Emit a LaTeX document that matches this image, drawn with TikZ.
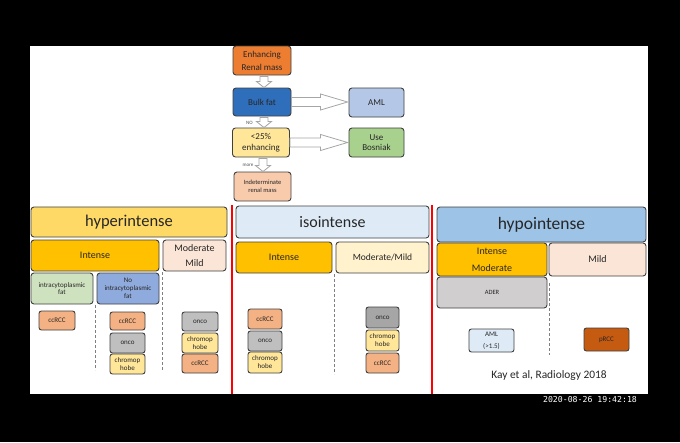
\documentclass[tikz,border=0pt]{standalone}
\usepackage{fontspec}
\setmainfont{Carlito}
\newfontfamily\tsfont{DejaVu Sans Mono}
\usetikzlibrary{calc}
\newcommand\myfs[2]{\fontsize{#1}{#2}\selectfont}
\definecolor{cOrange}{HTML}{ED7D31}
\definecolor{cBlue}{HTML}{2F6EBA}
\definecolor{cLBlue}{HTML}{B4C7E7}
\definecolor{cLYel}{HTML}{FFE699}
\definecolor{cGreen}{HTML}{A9D18E}
\definecolor{cPeach}{HTML}{F8CBAD}
\definecolor{cHyper}{HTML}{FFD966}
\definecolor{cAmber}{HTML}{FFC000}
\definecolor{cPink}{HTML}{FBE5D6}
\definecolor{cPGreen}{HTML}{CFE2C0}
\definecolor{cMBlue}{HTML}{8FAADC}
\definecolor{cRcc}{HTML}{F4B183}
\definecolor{cGray}{HTML}{BFBFBF}
\definecolor{cDGray}{HTML}{A6A6A6}
\definecolor{cIso}{HTML}{DEEBF7}
\definecolor{cCream}{HTML}{FFF2CC}
\definecolor{cHypo}{HTML}{9DC3E6}
\definecolor{cAder}{HTML}{D0CECE}
\definecolor{cBrown}{HTML}{C55A11}
\definecolor{cLine}{HTML}{404040}
\definecolor{cTxt}{HTML}{262626}
\newcommand\rarrow[2]{%
  \draw[blk] let \p1=(#1.east), \p2=(#2.west) in
    (\x1,\y1-4.5pt) -- (\x2-28pt,\y1-4.5pt) -- (\x2-28pt,\y1-8pt) -- (\x2-1pt,\y1)
    -- (\x2-28pt,\y1+8pt) -- (\x2-28pt,\y1+4.5pt) -- (\x1,\y1+4.5pt) -- cycle;}
\newcommand\darrow[2]{%
  \draw[blk] let \p1=($(#1.south)+(2pt,0)$), \p2=(#2.north) in
    (\x1-4pt,\y1-1pt) -- (\x1-4pt,\y2+6pt) -- (\x1-7.5pt,\y2+6pt) -- (\x1,\y2)
    -- (\x1+7.5pt,\y2+6pt) -- (\x1+4pt,\y2+6pt) -- (\x1+4pt,\y1-1pt) -- cycle;}
\begin{document}
\begin{tikzpicture}[x=1pt,y=-1pt,
  box/.style={draw=cLine, line width=0.9pt, rounded corners=3pt, align=center,
    inner sep=0pt, text=cTxt},
  sbox/.style={box, rounded corners=2.5pt, font=\myfs{7}{8}},
  blk/.style={draw=cDGray, fill=white, line width=0.8pt},
  dsh/.style={draw=gray, line width=1pt, dash pattern=on 3pt off 2pt},
  redl/.style={draw=red, line width=1.3pt},
  lbl/.style={font=\myfs{5}{6}, text=cTxt!80, inner sep=0pt}]
\useasboundingbox (0,0) rectangle (680,442);
\fill[black] (0,0) rectangle (680,442);
\fill[white] (30,46) rectangle (648,394);

% top flow
\node[box, fill=cOrange, minimum width=58, minimum height=29, font=\myfs{9}{13}] (enh) at (262,60.5) {Enhancing\\Renal mass};
\node[box, fill=cBlue, minimum width=58, minimum height=28, font=\myfs{9}{11}] (bulk) at (262,102) {Bulk fat};
\node[box, fill=cLBlue, minimum width=55, minimum height=29, font=\myfs{9}{11}] (aml) at (376.5,102.5) {AML};
\node[box, fill=cLYel, minimum width=57, minimum height=29, font=\myfs{9}{10.5}] (less) at (261,142.5) {<25\%\\enhancing};
\node[box, fill=cGreen, minimum width=55, minimum height=29, font=\myfs{9}{10}] (bos) at (376.5,142.5) {Use\\Bosniak};
\node[box, fill=cPeach, minimum width=57, minimum height=29, font=\myfs{6.5}{7.5}] (indet) at (262.5,186.5) {Indeterminate\\renal mass};
\darrow{enh}{bulk}
\darrow{bulk}{less}
\darrow{less}{indet}
\rarrow{bulk}{aml}
\rarrow{less}{bos}
\node[lbl] (nolbl) at (249.5,123) {NO};
\node[lbl] (morelbl) at (248,165) {more};

% separators
\draw[redl] (232,205) -- (232,394);
\draw[redl] (432,205) -- (432,394);

% hyperintense
\node[box, fill=cHyper, minimum width=196, minimum height=30, font=\myfs{16.5}{18}] (hyper) at (129,222) {hyperintense};
\node[box, fill=cAmber, minimum width=128, minimum height=31, font=\myfs{10}{12}] (hint) at (95,255.5) {Intense};
\node[box, fill=cPink, minimum width=63, minimum height=31, font=\myfs{10}{15}] (hmod) at (194.5,255.5) {Moderate\\Mild};
\node[box, fill=cPGreen, minimum width=62, minimum height=31, font=\myfs{7}{7.5}] (hfat) at (62,288.5) {intracytoplasmic\\fat};
\node[box, fill=cMBlue, minimum width=62, minimum height=31, font=\myfs{7}{8}] (hnofat) at (128,288.5) {No\\intracytoplasmic\\fat};
\node[sbox, fill=cRcc, minimum width=36, minimum height=19] (hcc1) at (57,320.5) {ccRCC};
\node[sbox, fill=cRcc, minimum width=35, minimum height=18] (hcc2) at (127.5,321) {ccRCC};
\node[sbox, fill=cGray, minimum width=35, minimum height=20] (hon2) at (127.5,343) {onco};
\node[sbox, fill=cLYel, minimum width=35, minimum height=20] (hch2) at (127.5,364) {chromop\\hobe};
\node[sbox, fill=cGray, minimum width=36, minimum height=19] (hon3) at (200,321.5) {onco};
\node[sbox, fill=cLYel, minimum width=36, minimum height=20] (hch3) at (200,343) {chromop\\hobe};
\node[sbox, fill=cRcc, minimum width=36, minimum height=19] (hcc3) at (200,363.5) {ccRCC};
\draw[dsh] (95,305) -- (95,370);
\draw[dsh] (162,272) -- (162,370);

% isointense
\node[box, fill=cIso, minimum width=193, minimum height=32, font=\myfs{16}{18}] (iso) at (332.5,222) {isointense};
\node[box, fill=cAmber, minimum width=96, minimum height=31, font=\myfs{10}{12}] (iint) at (284,257.5) {Intense};
\node[box, fill=cCream, minimum width=93, minimum height=31, font=\myfs{9.5}{12}] (imod) at (382.5,257.5) {Moderate/Mild};
\node[sbox, fill=cRcc, minimum width=34, minimum height=20] (icc1) at (265,319) {ccRCC};
\node[sbox, fill=cGray, minimum width=34, minimum height=20] (ion1) at (265,341) {onco};
\node[sbox, fill=cLYel, minimum width=34, minimum height=21] (ich1) at (265,362.5) {chromop\\hobe};
\node[sbox, fill=cDGray, minimum width=33, minimum height=21] (ion2) at (382.5,317.5) {onco};
\node[sbox, fill=cLYel, minimum width=33, minimum height=21] (ich2) at (382.5,340.5) {chromop\\hobe};
\node[sbox, fill=cRcc, minimum width=33, minimum height=20] (icc2) at (382.5,363) {ccRCC};
\draw[dsh] (334,274) -- (334,374);

% hypointense
\node[box, fill=cHypo, minimum width=209, minimum height=35, font=\myfs{17.5}{19}] (hypo) at (541.5,224.5) {hypointense};
\node[box, fill=cAmber, minimum width=110, minimum height=33, font=\myfs{10}{17}] (pint) at (492,259.5) {Intense\\Moderate};
\node[box, fill=cPink, minimum width=97, minimum height=33, font=\myfs{10}{12}] (pmild) at (597.5,259.5) {Mild};
\node[box, fill=cAder, minimum width=110, minimum height=31, font=\myfs{6.5}{8}] (ader) at (492,292.5) {ADER};
\node[sbox, fill=cIso, minimum width=45, minimum height=23, font=\myfs{7}{12}] (paml) at (491.5,340.5) {AML\\(>1.5)};
\node[sbox, fill=cBrown, minimum width=45, minimum height=23] (prcc) at (606.5,339.5) {pRCC};
\draw[dsh] (549,283) -- (549,355);
\node[font=\myfs{11.4}{13}, text=cTxt, inner sep=0pt] (ref) at (549,376) {Kay et al, Radiology 2018};

% timestamp
\node[font=\tsfont\myfs{8.2}{9}, text=white, inner sep=0pt] (ts) at (590,400) {2020-08-26 19:42:18};
\end{tikzpicture}
\end{document}
